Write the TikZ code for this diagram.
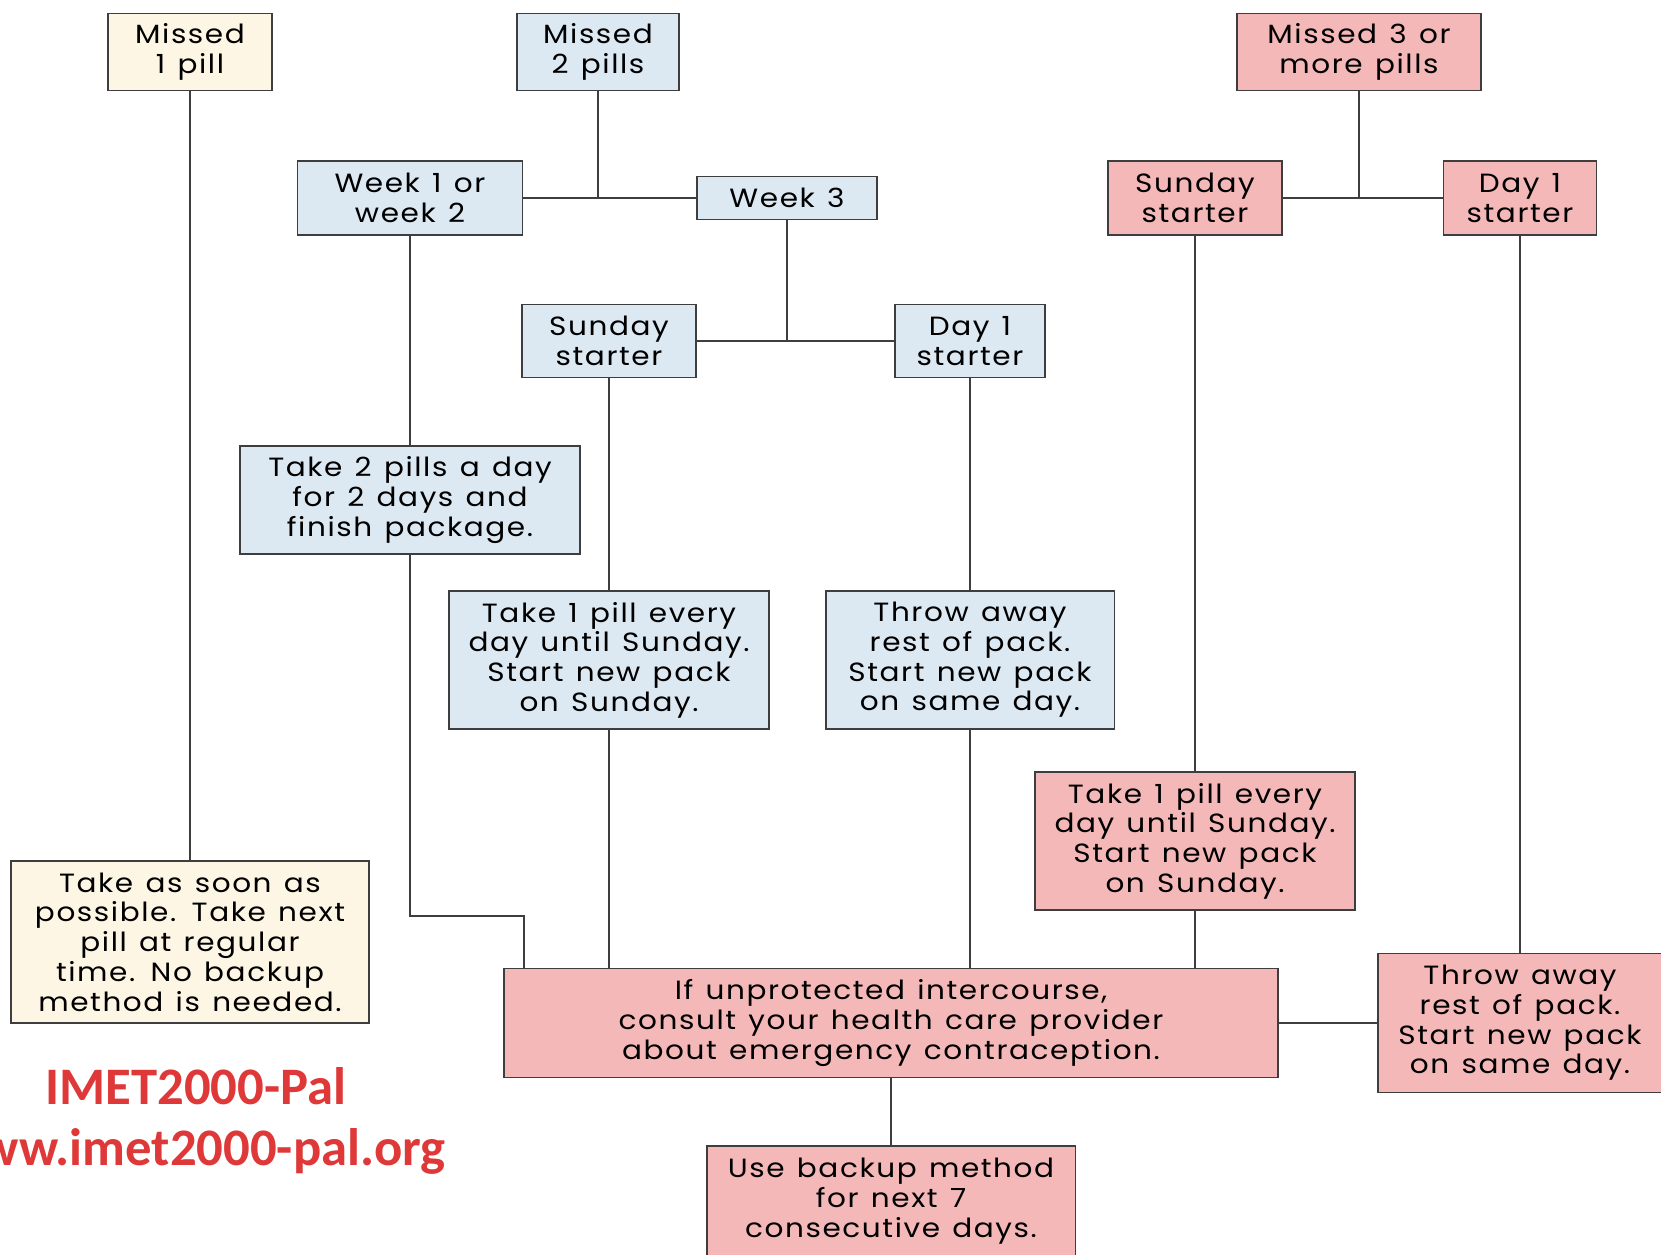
\documentclass[tikz,border=0pt]{standalone}
\usepackage{fontspec}
\setmainfont{Poppins}[FakeStretch=1.12,LetterSpace=6,WordSpace=1.3]
\newfontfamily\markfont{Carlito}
\usepackage{tikz}

\definecolor{creamfill}{RGB}{253,246,228}
\definecolor{bluefill}{RGB}{221,233,242}
\definecolor{pinkfill}{RGB}{244,184,184}
\definecolor{edgegray}{RGB}{62,62,62}
\definecolor{markred}{RGB}{222,56,56}

\begin{document}
\begin{tikzpicture}[x=0.02cm,y=-0.02cm,
  pillbox/.style={draw=edgegray,line width=1.1pt,align=center,inner sep=0pt,
    font=\fontsize{15}{16.9}\selectfont},
  creambox/.style={pillbox,fill=creamfill},
  bluebox/.style={pillbox,fill=bluefill},
  pinkbox/.style={pillbox,fill=pinkfill},
  link/.style={draw=edgegray,line width=1.1pt}]
\useasboundingbox (0,0) rectangle (1661,1255);

% top row
\node[creambox,minimum width=3.28cm,minimum height=1.54cm] (m1) at (190,52) {Missed\\1 pill};
\node[bluebox,minimum width=3.24cm,minimum height=1.54cm] (m2) at (598,52) {Missed\\2 pills};
\node[pinkbox,minimum width=4.88cm,minimum height=1.54cm] (m3) at (1359,52) {Missed 3 or\\more pills};

% second row
\node[bluebox,minimum width=4.5cm,minimum height=1.48cm] (wk12) at (410,198) {Week 1 or\\week 2};
\node[bluebox,minimum width=3.6cm,minimum height=0.86cm] (wk3) at (787,198) {Week 3};
\node[pinkbox,minimum width=3.48cm,minimum height=1.48cm] (sunR) at (1195,198) {Sunday\\starter};
\node[pinkbox,minimum width=3.06cm,minimum height=1.48cm] (dayR) at (1520,198) {Day 1\\starter};

% week 3 starters
\node[bluebox,minimum width=3.48cm,minimum height=1.46cm] (sunB) at (609,341) {Sunday\\starter};
\node[bluebox,minimum width=3.0cm,minimum height=1.46cm] (dayB) at (970,341) {Day 1\\starter};

% actions
\node[bluebox,minimum width=6.8cm,minimum height=2.16cm] (take2) at (410,500) {Take 2 pills a day\\for 2 days and\\finish package.};
\node[bluebox,minimum width=6.4cm,minimum height=2.76cm] (take1B) at (609,660) {Take 1 pill every\\day until Sunday.\\Start new pack\\on Sunday.};
\node[bluebox,minimum width=5.78cm,minimum height=2.76cm] (throwB) at (970,660) {Throw away\\rest of pack.\\Start new pack\\on same day.};
\node[pinkbox,minimum width=6.4cm,minimum height=2.76cm] (take1R) at (1195,841) {Take 1 pill every\\day until Sunday.\\Start new pack\\on Sunday.};
\node[creambox,minimum width=7.16cm,minimum height=3.24cm] (soon) at (190,942) {Take as soon as\\possible. Take next\\pill at regular\\time. No backup\\method is needed.};

% bottom
\node[pinkbox,minimum width=15.48cm,minimum height=2.18cm] (ifbox) at (891,1023) {If unprotected intercourse,\\consult your health care provider\\about emergency contraception.};
\node[pinkbox,minimum width=5.68cm,minimum height=2.78cm] (throwR) at (1520,1023) {Throw away\\rest of pack.\\Start new pack\\on same day.};
\node[pinkbox,minimum width=7.38cm,minimum height=2.2cm] (backup) at (891,1201) {Use backup method\\for next 7\\consecutive days.};

% watermark
\node[text=markred,font=\markfont\bfseries\fontsize{30}{32}\selectfont] (mark) at (196,1086) {IMET2000-Pal};
\node[text=markred,font=\markfont\bfseries\fontsize{30}{32}\selectfont,anchor=east] (site) at (452,1151) {www.imet2000-pal.org};

\coordinate (bend) at (524,916);

% connectors
\draw[link] (m1.south) -- (m1.south |- soon.north);
\draw[link] (m2.south) -- (m2.south |- wk12.east);
\draw[link] (wk12.east) -- (wk3.west);
\draw[link] (wk3.south) -- (wk3.south |- sunB.east);
\draw[link] (sunB.east) -- (dayB.west);
\draw[link] (m3.south) -- (m3.south |- sunR.east);
\draw[link] (sunR.east) -- (dayR.west);
\draw[link] (wk12.south) -- (take2.north);
\draw[link] (take2.south) |- (bend) -- (bend |- ifbox.north);
\draw[link] (sunB.south) -- (take1B.north);
\draw[link] (take1B.south) -- (take1B.south |- ifbox.north);
\draw[link] (dayB.south) -- (throwB.north);
\draw[link] (throwB.south) -- (throwB.south |- ifbox.north);
\draw[link] (sunR.south) -- (take1R.north);
\draw[link] (take1R.south) -- (take1R.south |- ifbox.north);
\draw[link] (dayR.south) -- (throwR.north);
\draw[link] (ifbox.east) -- (throwR.west);
\draw[link] (ifbox.south) -- (backup.north);
\end{tikzpicture}
\end{document}
